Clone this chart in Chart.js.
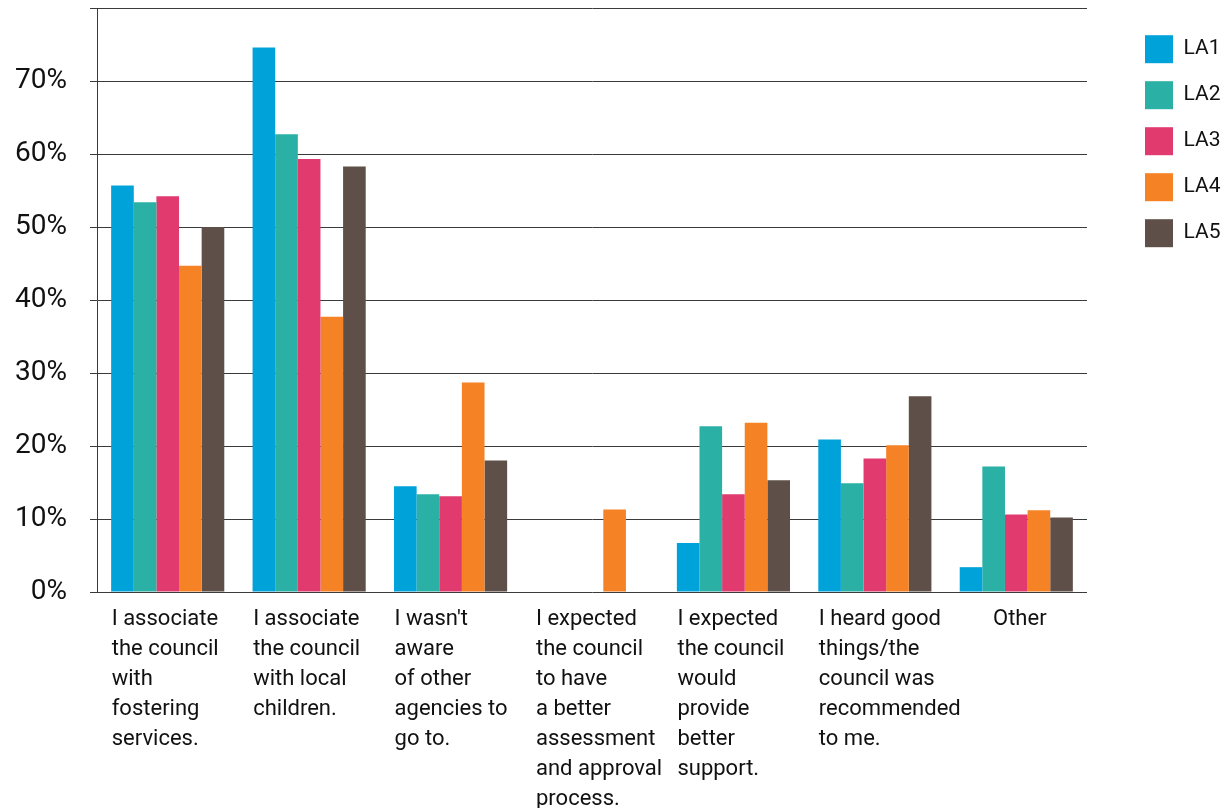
<!DOCTYPE html>
<html>
<head>
<meta charset="utf-8">
<title>Reasons for choosing the council</title>
<script src="https://cdn.jsdelivr.net/npm/chart.js@4/dist/chart.umd.min.js"></script>
<style>
  html, body { margin: 0; padding: 0; background: #fff; }
  canvas { display: block; }
</style>
</head>
<body>
<canvas id="reasonschart" width="1225" height="808"></canvas>
<script>
// categories (one array of lines per label)
const categories = [
  ['I associate', 'the council', 'with', 'fostering', 'services.'],
  ['I associate', 'the council', 'with local', 'children.'],
  ["I wasn't", 'aware', 'of other', 'agencies to', 'go to.'],
  ['I expected', 'the council', 'to have', 'a better', 'assessment', 'and approval', 'process.'],
  ['I expected', 'the council', 'would', 'provide', 'better', 'support.'],
  ['I heard good', 'things/the', 'council was', 'recommended', 'to me.'],
  ['Other']
];

// percentages per local authority
const la1 = [55.7, 74.6, 14.5, 0, 6.7, 20.9, 3.4];
const la2 = [53.4, 62.7, 13.4, 0, 22.7, 14.9, 17.2];
const la3 = [54.2, 59.3, 13.1, 0, 13.4, 18.3, 10.6];
const la4 = [44.7, 37.7, 28.7, 11.3, 23.2, 20.1, 11.2];
const la5 = [50, 58.3, 18.0, 0, 15.3, 26.8, 10.2];

const seriesNames = ['LA1', 'LA2', 'LA3', 'LA4', 'LA5'];
const seriesColors = ['#00a3d9', '#2ab0a4', '#e03a6f', '#f58225', '#5e5048'];
const yTicks = [0, 10, 20, 30, 40, 50, 60, 70, 80];

const ink = '#111';
const lineColor = '#3a3a3a';

document.addEventListener("DOMContentLoaded", function() {
  var ctx = document.getElementById('reasonschart').getContext('2d');

  var values = [la1, la2, la3, la4, la5];
  var datasets = seriesNames.map(function(name, i) {
    return {
      label: name,
      data: values[i],
      backgroundColor: seriesColors[i],
      borderWidth: 0,
      barPercentage: 1.0,
      categoryPercentage: 0.8
    };
  });

  var reasonschart = new Chart(ctx, {
    type: 'bar',
    data: {
      labels: categories,
      datasets: datasets
    },
    options: {
      responsive: false,
      animation: false,
      layout: { padding: { top: 8, left: 0, right: 0, bottom: 0 } },
      plugins: {
        tooltip: { enabled: false },
        legend: {
          position: 'right',
          align: 'start',
          maxWidth: 98,
          title: { display: true, text: '', font: { size: 1 }, padding: { top: 8, bottom: 0 } },
          labels: {
            boxWidth: 28,
            boxHeight: 28,
            padding: 18,
            color: ink,
            font: { family: 'Roboto', size: 21 }
          }
        }
      },
      scales: {
        x: {
          grid: { display: false, drawTicks: false },
          border: { display: false },
          ticks: {
            align: 'start',
            labelOffset: -56,
            padding: 12,
            maxRotation: 0,
            autoSkip: false,
            color: ink,
            font: { family: 'Roboto', size: 22, lineHeight: '30px' },
            callback: function(value, index) {
              var lines = categories[index];
              // the single-line label sits a little further in
              return lines.length === 1 ? '      ' + lines[0] : lines;
            }
          },
          afterFit: function(scale) {
            scale.height = 216;
            scale.paddingLeft = 0;
            scale.paddingRight = 0;
          }
        },
        y: {
          min: 0,
          max: 80,
          afterBuildTicks: function(scale) {
            scale.ticks = yTicks.map(function(v) { return { value: v }; });
          },
          grid: {
            color: lineColor,
            lineWidth: 1,
            tickLength: 7,
            tickColor: lineColor
          },
          border: { display: true, color: lineColor, width: 1 },
          ticks: {
            padding: 23,
            color: ink,
            font: { family: 'Roboto', size: 28 },
            callback: function(value) {
              return value === 80 ? '' : value + '%';
            }
          },
          afterFit: function(scale) {
            scale.width = 97;
            scale.paddingTop = 0;
            scale.paddingBottom = 0;
          }
        },
        // empty spacer between the plot and the legend
        gap: {
          position: 'right',
          display: true,
          grid: { display: false, drawTicks: false },
          border: { display: false },
          ticks: { display: false },
          afterFit: function(scale) {
            scale.width = 40;
          }
        }
      }
    }
  });
});
</script>
</body>
</html>
